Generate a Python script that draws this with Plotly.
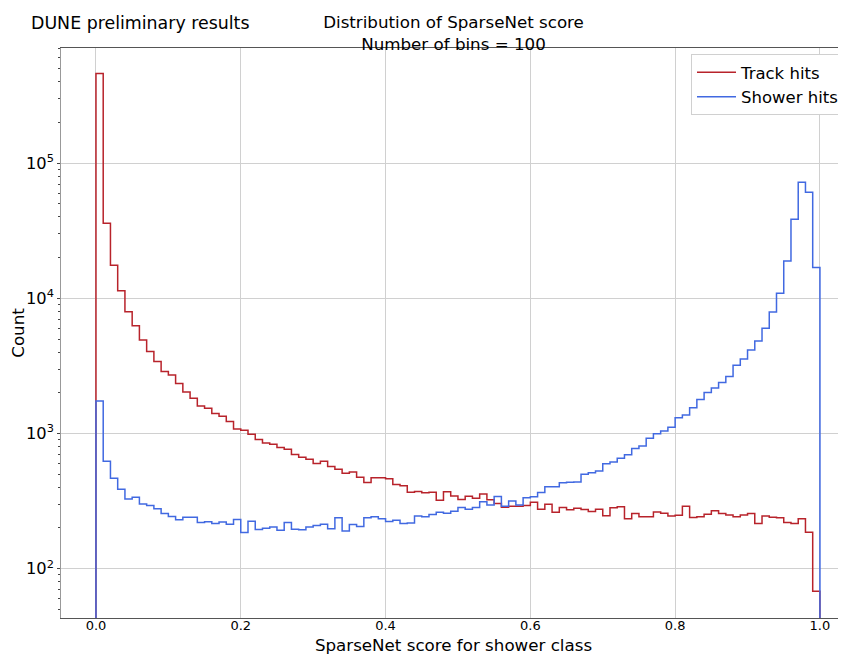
import numpy as np
import plotly.graph_objects as go

N_BINS = 100
SCORE_MIN, SCORE_MAX = 0.0, 1.0

track_counts = [
    460000, 36000, 17600, 11400, 7960, 6270, 4920, 4050, 3410, 2870,
    2710, 2340, 2030, 1825, 1600, 1540, 1405, 1343, 1227, 1081,
    1057, 989, 903, 852, 833, 788, 765, 700, 668, 645,
    600, 624, 570, 544, 508, 520, 475, 434, 470, 470,
    462, 420, 410, 368, 373, 364, 368, 321, 370, 345,
    325, 344, 332, 357, 323, 303, 285, 290, 290, 293,
    310, 275, 300, 261, 283, 273, 280, 274, 265, 275,
    246, 282, 287, 234, 256, 242, 242, 262, 257, 245,
    248, 290, 239, 242, 253, 268, 256, 250, 242, 249,
    256, 216, 245, 240, 238, 220, 216, 234, 186, 68,
]

shower_counts = [
    1740, 624, 467, 387, 327, 338, 301, 293, 278, 256,
    243, 230, 240, 240, 220, 222, 216, 221, 213, 231,
    185, 224, 195, 199, 203, 192, 220, 196, 194, 203,
    209, 213, 197, 238, 190, 212, 205, 238, 242, 234,
    223, 228, 216, 218, 245, 242, 252, 261, 257, 266,
    284, 275, 284, 312, 296, 342, 290, 317, 296, 334,
    340, 366, 403, 403, 432, 436, 438, 500, 512, 527,
    597, 615, 656, 697, 776, 807, 922, 995, 1043, 1110,
    1308, 1373, 1550, 1785, 2010, 2175, 2383, 2640, 3200, 3562,
    4152, 4840, 6010, 7930, 10900, 18900, 38500, 72300, 60900, 16900,
]

series_names = ["Track hits", "Shower hits"]
series_colors = ["#b8232b", "#4169e1"]
x_tick_values = [0.0, 0.2, 0.4, 0.6, 0.8, 1.0]

edges = np.linspace(SCORE_MIN, SCORE_MAX, N_BINS + 1)
FLOOR = 1.0  # histogram baseline (below visible log range, as in a step histogram)


def step_outline(counts):
    xs = [edges[0]] + list(edges[:-1]) + [edges[-1]]
    ys = [FLOOR] + list(counts) + [FLOOR]
    return xs, ys


FONT = "DejaVu Sans"
OFF = 8                      # page body margin offsets the figure by 8px
W, H = 846 - OFF, 655 - OFF
L, T, B = 61 - OFF, 48 - OFF, 37
PW, PH = W - L, H - T - B

fig = go.Figure()
for name, counts, color in zip(series_names, [track_counts, shower_counts], series_colors):
    xs, ys = step_outline(counts)
    fig.add_trace(go.Scatter(
        x=xs, y=ys, mode="lines", name=name,
        line=dict(color=color, width=1.5, shape="hv"),
    ))

fig.update_layout(
    width=W, height=H,
    margin=dict(l=L, r=0, t=T, b=B, autoexpand=False),
    paper_bgcolor="white", plot_bgcolor="white",
    font=dict(family=FONT, size=13, color="black"),
    title=dict(
        text="Distribution of SparseNet score<br>Number of bins = 100",
        x=0.5, xref="paper", xanchor="center",
        y=1 - 20 / H, yref="container", yanchor="top",
        font=dict(family=FONT, size=16.7, color="black"),
    ),
    legend=dict(
        x=(691 - OFF - L) / PW, y=1 - (54 - OFF - T) / PH, xanchor="left", yanchor="top",
        bgcolor="white", bordercolor="#d0d0d0", borderwidth=1,
        itemwidth=39,
        font=dict(family=FONT, size=16.5, color="black"),
    ),
    showlegend=True,
)

fig.update_xaxes(
    automargin=False,
    range=[-0.0483, 1.036],
    tickvals=x_tick_values, tickformat=".1f",
    ticks="", ticklabelstandoff=-5,
    showgrid=True, gridcolor="#d0d0d0", gridwidth=1,
    showline=True, linecolor="#555", linewidth=1, mirror=True,
    zeroline=False,
    tickfont=dict(family=FONT, size=13, color="black"),
    title=dict(text="SparseNet score for shower class", standoff=14,
               font=dict(family=FONT, size=16.7, color="black")),
)

fig.update_yaxes(
    automargin=False,
    type="log", range=[1.635, 5.852], dtick=1,
    exponentformat="power", showexponent="all",
    ticks="outside", ticklen=3.5, tickcolor="#444",
    minor=dict(ticks="outside", ticklen=2, tickcolor="#444", dtick="D1", showgrid=False),
    showgrid=True, gridcolor="#d0d0d0", gridwidth=1,
    showline=True, linecolor="#999", linewidth=1, mirror=True,
    zeroline=False,
    tickfont=dict(family=FONT, size=13, color="black"),
    title=dict(text="Count", standoff=0,
               font=dict(family=FONT, size=16.7, color="black")),
)

fig.add_annotation(
    text="DUNE preliminary results",
    xref="paper", yref="paper",
    x=(29 - OFF - L) / PW, y=1 + (T - (23 - OFF)) / PH,
    xanchor="left", yanchor="middle", showarrow=False,
    font=dict(family=FONT, size=17.4, color="black"),
)

fig.write_html("out.html")
